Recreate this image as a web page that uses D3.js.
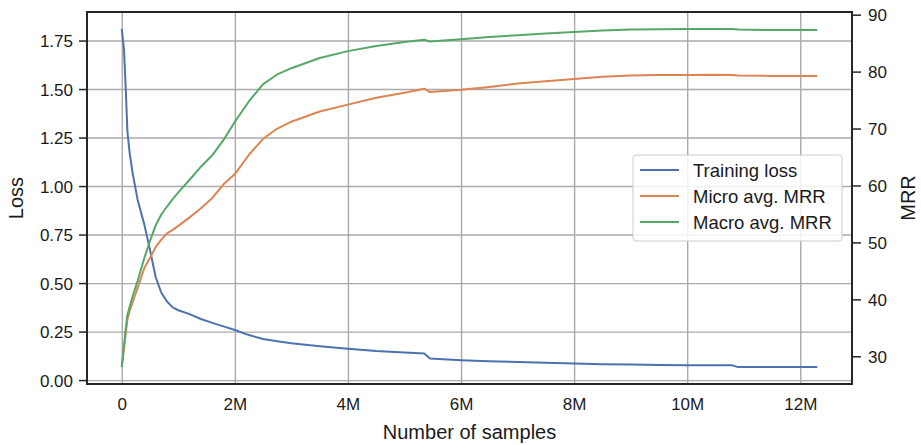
<!DOCTYPE html>
<html>
<head>
<meta charset="utf-8">
<script src="https://cdn.jsdelivr.net/npm/d3@7"></script>
<style>
  body { margin: 0; background: #fff; }
  svg { font-family: "Liberation Sans", Arial, sans-serif; }
  .grid line { stroke: #aaaaaa; stroke-width: 1.4; }
  .grid path { display: none; }
  .axis path { display: none; }
  .axis line { stroke: #262626; stroke-width: 1.5; }
  .axis text { fill: #1a1a1a; font-size: 17px; }
  .line { fill: none; stroke-width: 2; stroke-linejoin: round; }
</style>
</head>
<body>
<div class="canvas"></div>
<script>
// samples in millions
var samples = [0, 0.04, 0.07, 0.1, 0.14, 0.19, 0.28, 0.4, 0.5, 0.6, 0.7, 0.8, 0.9, 1.0,
    1.2, 1.4, 1.6, 1.8, 2.0, 2.25, 2.5, 2.75, 3.0, 3.5, 4.0, 4.5, 5.0, 5.35, 5.45,
    6.0, 6.5, 7.0, 7.5, 8.0, 8.5, 9.0, 9.5, 10.0, 10.5, 10.8, 10.9, 11.5, 12.0, 12.3];

var trainingLoss = [1.81, 1.70, 1.50, 1.28, 1.17, 1.07, 0.93, 0.80, 0.67, 0.53, 0.45, 0.405, 0.375, 0.36,
    0.34, 0.315, 0.295, 0.277, 0.258, 0.232, 0.212, 0.200, 0.190, 0.175, 0.162, 0.150, 0.142, 0.137, 0.111,
    0.102, 0.097, 0.093, 0.089, 0.086, 0.082, 0.080, 0.078, 0.077, 0.077, 0.076, 0.067, 0.067, 0.067, 0.068];

var microMRR = [28.1, 31.5, 34.0, 36.5, 38.0, 39.4, 42.0, 45.5, 47.3, 49.2, 50.5, 51.6, 52.2, 52.9,
    54.4, 56.0, 57.8, 60.2, 62.0, 65.4, 68.2, 70.0, 71.2, 73.0, 74.2, 75.4, 76.3, 77.0, 76.4,
    76.8, 77.3, 77.9, 78.3, 78.7, 79.1, 79.3, 79.4, 79.4, 79.45, 79.4, 79.3, 79.25, 79.25, 79.25];

var macroMRR = [28.1, 32.0, 34.8, 37.3, 38.7, 40.5, 43.2, 47.3, 50.3, 53.0, 54.9, 56.3, 57.6, 58.8,
    61.0, 63.3, 65.3, 68.0, 71.2, 74.8, 77.8, 79.5, 80.6, 82.4, 83.6, 84.5, 85.2, 85.6, 85.3,
    85.7, 86.1, 86.4, 86.7, 86.95, 87.2, 87.4, 87.45, 87.5, 87.5, 87.5, 87.4, 87.3, 87.3, 87.3];

var xTicks = [0, 2, 4, 6, 8, 10, 12];
var lossTicks = [0, 0.25, 0.5, 0.75, 1.0, 1.25, 1.5, 1.75];
var mrrTicks = [30, 40, 50, 60, 70, 80, 90];

var seriesNames = ["Training loss", "Micro avg. MRR", "Macro avg. MRR"];
var colors = ["#4c72b0", "#dd8452", "#55a868"];

var margin = { top: 12, right: 69, bottom: 61, left: 87 },
    width = 921 - margin.left - margin.right,
    height = 445 - margin.top - margin.bottom;

// matplotlib style 5% padding
function padded(ext) {
    var r = ext[1] - ext[0];
    return [ext[0] - 0.05 * r, ext[1] + 0.05 * r];
}

var x = d3.scaleLinear().domain(padded(d3.extent(samples))).range([0, width]);
var yLoss = d3.scaleLinear().domain(padded(d3.extent(trainingLoss))).range([height, 0]);
var yMrr = d3.scaleLinear().domain(padded(d3.extent(microMRR.concat(macroMRR)))).range([height, 0]);

var svg = d3.select(".canvas").append("svg")
    .attr("width", 921)
    .attr("height", 445)
    .append("g")
    .attr("transform", "translate(" + margin.left + "," + margin.top + ")");

// grid
svg.append("g")
    .attr("class", "grid")
    .attr("transform", "translate(0," + height + ")")
    .call(d3.axisBottom(x).tickValues(xTicks).tickSize(-height).tickFormat(""));
svg.append("g")
    .attr("class", "grid")
    .call(d3.axisLeft(yLoss).tickValues(lossTicks).tickSize(-width).tickFormat(""));

// lines
var lossLine = d3.line()
    .x(function (d, i) { return x(samples[i]); })
    .y(function (d) { return yLoss(d); });
var mrrLine = d3.line()
    .x(function (d, i) { return x(samples[i]); })
    .y(function (d) { return yMrr(d); });

svg.append("path").datum(trainingLoss).attr("class", "line")
    .attr("stroke", colors[0]).attr("d", lossLine);
svg.append("path").datum(microMRR).attr("class", "line")
    .attr("stroke", colors[1]).attr("d", mrrLine);
svg.append("path").datum(macroMRR).attr("class", "line")
    .attr("stroke", colors[2]).attr("d", mrrLine);

// axes
svg.append("g")
    .attr("class", "axis")
    .attr("transform", "translate(0," + height + ")")
    .call(d3.axisBottom(x).tickValues(xTicks).tickSize(0).tickPadding(14)
        .tickFormat(function (d) { return d === 0 ? "0" : d + "M"; }));

svg.append("g")
    .attr("class", "axis")
    .call(d3.axisLeft(yLoss).tickValues(lossTicks).tickSize(8).tickPadding(6)
        .tickFormat(d3.format(".2f")))
    .selectAll("text").attr("dy", "0.36em");

svg.append("g")
    .attr("class", "axis")
    .attr("transform", "translate(" + width + ",0)")
    .call(d3.axisRight(yMrr).tickValues(mrrTicks).tickSize(9).tickPadding(7))
    .selectAll("text").attr("dy", "0.36em");

// frame
svg.append("rect")
    .attr("width", width).attr("height", height)
    .attr("fill", "none").attr("stroke", "#262626").attr("stroke-width", 2);

// labels
svg.append("text")
    .attr("x", width / 2).attr("y", height + 55)
    .attr("text-anchor", "middle")
    .style("font-size", "20px").attr("fill", "#1a1a1a")
    .text("Number of samples");

svg.append("text")
    .attr("transform", "translate(" + (23 - margin.left) + "," + (height / 2) + ") rotate(-90)")
    .attr("text-anchor", "middle")
    .style("font-size", "20px").attr("fill", "#1a1a1a")
    .text("Loss");

svg.append("text")
    .attr("transform", "translate(" + (width + 63) + "," + (height / 2) + ") rotate(-90)")
    .attr("text-anchor", "middle")
    .style("font-size", "20px").attr("fill", "#1a1a1a")
    .text("MRR");

// legend
var legend = svg.append("g")
    .attr("transform", "translate(" + (633 - margin.left) + "," + (155 - margin.top) + ")");
legend.append("rect")
    .attr("width", 209).attr("height", 86)
    .attr("rx", 3)
    .attr("fill", "#fff").attr("fill-opacity", 0.85)
    .attr("stroke", "#cccccc").attr("stroke-width", 1);

var rows = legend.selectAll(".lineLegend").data(seriesNames)
    .enter().append("g")
    .attr("class", "lineLegend")
    .attr("transform", function (d, i) { return "translate(0," + (15 + i * 26) + ")"; });
rows.append("line")
    .attr("x1", 7).attr("x2", 46)
    .attr("stroke", function (d, i) { return colors[i]; })
    .attr("stroke-width", 2);
rows.append("text")
    .attr("x", 60).attr("dy", "0.36em")
    .style("font-size", "18.5px").attr("fill", "#1a1a1a")
    .text(function (d) { return d; });
</script>
</body>
</html>
